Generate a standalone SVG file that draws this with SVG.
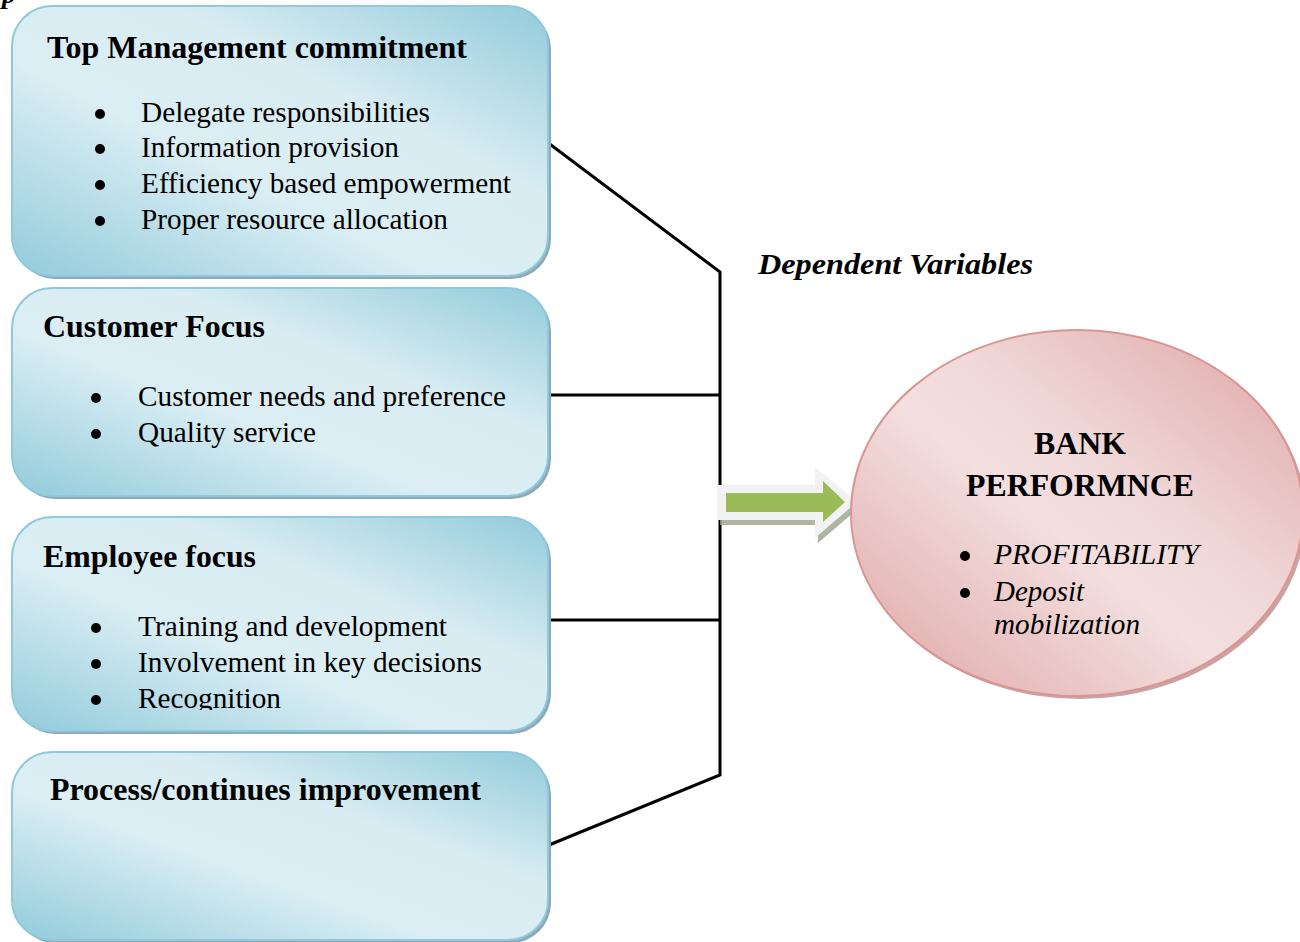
<svg xmlns="http://www.w3.org/2000/svg" width="1300" height="942" viewBox="0 0 1300 942">
<defs>
<linearGradient id="blueG" x1="0" y1="1" x2="1" y2="0">
<stop offset="0" stop-color="#92cbdb"/>
<stop offset="0.4" stop-color="#dbeef4"/>
<stop offset="0.65" stop-color="#d8ecf2"/>
<stop offset="1" stop-color="#92cbdb"/>
</linearGradient>
<linearGradient id="pinkG" x1="0" y1="1" x2="1" y2="0">
<stop offset="0" stop-color="#dfa4a4"/>
<stop offset="0.45" stop-color="#f3dfdf"/>
<stop offset="0.6" stop-color="#f0d8d8"/>
<stop offset="1" stop-color="#dfa4a4"/>
</linearGradient>
<clipPath id="clip3"><rect x="12" y="517" width="536" height="193"/></clipPath>
<style>
.box{fill:url(#blueG);stroke:#8ecadb;stroke-width:2}
.shadow{fill:#8fa9b8}
.t{font-family:"Liberation Serif","Times New Roman",serif;fill:#000}
.h{font-size:32px;font-weight:bold}
.b{font-size:29px}
.dot{fill:#000}
.conn{stroke:#000;stroke-width:3;fill:none}
</style>
</defs>
<text class="t" x="2" y="3" font-size="28" font-weight="bold" font-style="italic">p</text>
<g id="connectors">
<polyline class="conn" points="547,142 720,272 720,775 549,845"/>
<line class="conn" x1="547" y1="395" x2="720" y2="395"/>
<line class="conn" x1="549" y1="620" x2="720" y2="620"/>
</g>
<g id="node-top">
<rect class="shadow" x="15" y="9" width="536" height="270" rx="40"/>
<rect class="box" x="12" y="6" width="536" height="270" rx="40"/>
<text class="t h" x="47" y="58" textLength="420" lengthAdjust="spacingAndGlyphs">Top Management commitment</text>
<circle class="dot" cx="100" cy="114" r="5"/>
<circle class="dot" cx="100" cy="149" r="5"/>
<circle class="dot" cx="100" cy="185" r="5"/>
<circle class="dot" cx="100" cy="221" r="5"/>
<g class="t b">
<text x="141" y="122" textLength="289" lengthAdjust="spacingAndGlyphs">Delegate responsibilities</text>
<text x="141" y="157" textLength="258" lengthAdjust="spacingAndGlyphs">Information provision</text>
<text x="141" y="193" textLength="370" lengthAdjust="spacingAndGlyphs">Efficiency based empowerment</text>
<text x="141" y="229" textLength="307" lengthAdjust="spacingAndGlyphs">Proper resource allocation</text>
</g>
</g>
<g id="node-customer">
<rect class="shadow" x="15" y="291" width="536" height="208" rx="40"/>
<rect class="box" x="12" y="288" width="536" height="208" rx="40"/>
<text class="t h" x="43" y="337" textLength="222" lengthAdjust="spacingAndGlyphs">Customer Focus</text>
<circle class="dot" cx="96" cy="398" r="5"/>
<circle class="dot" cx="96" cy="434" r="5"/>
<g class="t b">
<text x="138" y="406" textLength="368" lengthAdjust="spacingAndGlyphs">Customer needs and preference</text>
<text x="138" y="442" textLength="178" lengthAdjust="spacingAndGlyphs">Quality service</text>
</g>
</g>
<g id="node-employee">
<rect class="shadow" x="15" y="520" width="536" height="214" rx="40"/>
<rect class="box" x="12" y="517" width="536" height="214" rx="40"/>
<text class="t h" x="43" y="567" textLength="213" lengthAdjust="spacingAndGlyphs">Employee focus</text>
<circle class="dot" cx="96" cy="628" r="5"/>
<circle class="dot" cx="96" cy="664" r="5"/>
<circle class="dot" cx="96" cy="700" r="5"/>
<g class="t b" clip-path="url(#clip3)">
<text x="138" y="636" textLength="309" lengthAdjust="spacingAndGlyphs">Training and development</text>
<text x="138" y="672" textLength="344" lengthAdjust="spacingAndGlyphs">Involvement in key decisions</text>
<text x="138" y="708" textLength="143" lengthAdjust="spacingAndGlyphs">Recognition</text>
</g>
</g>
<g id="node-process">
<rect class="shadow" x="15" y="755" width="536" height="188" rx="40"/>
<rect class="box" x="12" y="752" width="536" height="188" rx="40"/>
<text class="t h" x="50" y="800" textLength="431" lengthAdjust="spacingAndGlyphs">Process/continues improvement</text>
</g>
<g id="label-dependent">
<text class="t" x="758" y="274" font-size="30" font-weight="bold" font-style="italic" textLength="275" lengthAdjust="spacingAndGlyphs">Dependent Variables</text>
</g>
<g id="arrow">
<polygon points="720,490 818,490 818,472 860,507 818,543 818,525 720,525" fill="#9aa38a" opacity="0.8"/>
<polygon points="717,485 815,485 815,467 857,502 815,538 815,520 717,520" fill="#f2f2f2"/>
<polygon points="726,493 823,493 823,481 845,502 823,522 823,512 726,512" fill="#9bbb59"/>
</g>
<g id="node-bank">
<ellipse cx="1080" cy="516" rx="226" ry="183" fill="#caa3a3"/>
<ellipse cx="1077" cy="513" rx="226" ry="183" fill="url(#pinkG)" stroke="#d99594" stroke-width="2"/>
<text class="t h" x="1080" y="454" text-anchor="middle" textLength="92" lengthAdjust="spacingAndGlyphs">BANK</text>
<text class="t h" x="1080" y="496" text-anchor="middle" textLength="228" lengthAdjust="spacingAndGlyphs">PERFORMNCE</text>
<circle class="dot" cx="965" cy="556" r="5"/>
<circle class="dot" cx="965" cy="593" r="5"/>
<g class="t b" font-style="italic">
<text x="994" y="564" textLength="205" lengthAdjust="spacingAndGlyphs">PROFITABILITY</text>
<text x="994" y="601" textLength="90" lengthAdjust="spacingAndGlyphs">Deposit</text>
<text x="994" y="634" textLength="146" lengthAdjust="spacingAndGlyphs">mobilization</text>
</g>
</g>
</svg>
